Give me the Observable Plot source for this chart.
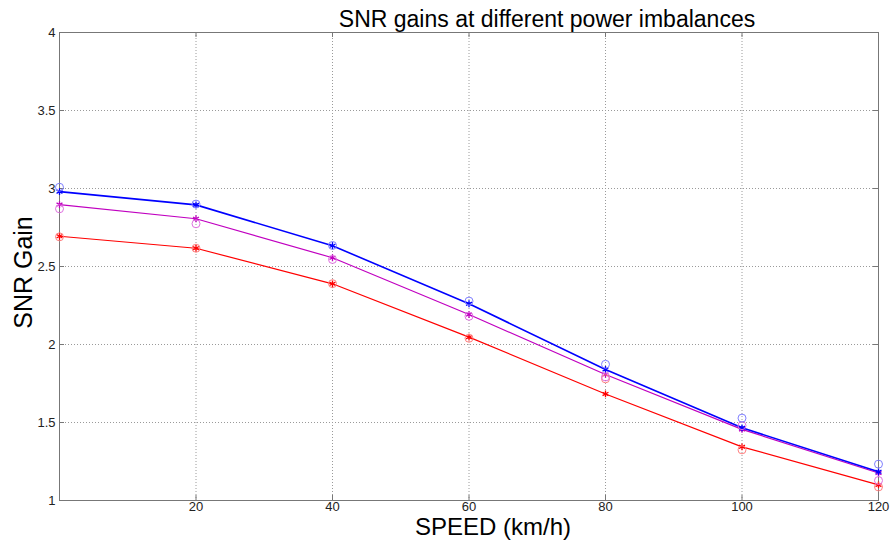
<!DOCTYPE html>
<html><head><meta charset="utf-8">
<script src="https://cdn.jsdelivr.net/npm/d3@7"></script>
<script src="https://cdn.jsdelivr.net/npm/@observablehq/plot@0.6"></script>
<style>html,body{margin:0;padding:0;background:#fff} svg{display:block}</style>
</head><body><div id="chart"></div>
<script>
// ---- data ----
const speeds = [0, 20, 40, 60, 80, 100, 120];
const xTicks = [20, 40, 60, 80, 100, 120];
const yTicks = [1, 1.5, 2, 2.5, 3, 3.5, 4];
const seriesNames = ["blue", "magenta", "red"];
// simulated (line with * markers)
const blueSim    = [2.980, 2.895, 2.633, 2.261, 1.840, 1.466, 1.184];
const magentaSim = [2.897, 2.806, 2.556, 2.192, 1.808, 1.456, 1.176];
const redSim     = [2.694, 2.617, 2.389, 2.047, 1.683, 1.344, 1.100];
// analytical (open circles)
const blueTh    = [3.008, 2.900, 2.635, 2.278, 1.873, 1.528, 1.233];
const magentaTh = [2.870, 2.774, 2.545, 2.181, 1.792, 1.480, 1.128];
const redTh     = [2.690, 2.617, 2.390, 2.040, 1.780, 1.325, 1.087];

const lineColors = {blue: "#0000ff", magenta: "#c000c0", red: "#ff0000"};
const circleColors = {blue: "#7f7fff", magenta: "#e070e0", red: "#ff7f7f"};

const simArrays = {blue: blueSim, magenta: magentaSim, red: redSim};
const thArrays = {blue: blueTh, magenta: magentaTh, red: redTh};
const drawOrder = ["red", "magenta", "blue"];

const sim = drawOrder.flatMap(s => speeds.map((x, i) => ({s, x, y: simArrays[s][i]})));
const th = drawOrder.flatMap(s => speeds.map((x, i) => ({s, x, y: thArrays[s][i]})));

const W = 891, H = 540, mL = 59, mR = 13, mT = 32, mB = 40;
const pw = W - mL - mR, ph = H - mT - mB;
const font = "'Liberation Sans', Arial, Helvetica, sans-serif";

const marks = [
  Plot.gridX(xTicks, {stroke: "#9a9a9a", strokeOpacity: 1, strokeDasharray: "1,2"}),
  Plot.gridY(yTicks, {stroke: "#9a9a9a", strokeOpacity: 1, strokeDasharray: "1,2"}),
  // inward ticks
  Plot.tickX(xTicks, {x: d => d, insetTop: ph - 5, stroke: "#777"}),
  Plot.tickX(xTicks, {x: d => d, insetBottom: ph - 5, stroke: "#777"}),
  Plot.tickY(yTicks, {y: d => d, insetRight: pw - 5, stroke: "#777"}),
  Plot.tickY(yTicks, {y: d => d, insetLeft: pw - 5, stroke: "#777"}),
  Plot.frame({stroke: "#777"}),
  Plot.axisX(xTicks, {tickSize: 0, tickPadding: 1, fontSize: 13, fill: "#222", label: null}),
  Plot.axisY(yTicks, {tickSize: 0, tickPadding: 4, fontSize: 13, fill: "#222", label: null, tickFormat: d => String(d)}),
];
for (const s of drawOrder) {
  marks.push(Plot.line(sim.filter(d => d.s === s), {x: "x", y: "y", stroke: lineColors[s], strokeWidth: s === "blue" ? 1.6 : 1.2}));
  marks.push(Plot.dot(sim.filter(d => d.s === s), {x: "x", y: "y", symbol: "asterisk", r: 3.2, stroke: lineColors[s], strokeWidth: 1.3}));
}
for (const s of drawOrder) {
  marks.push(Plot.dot(th.filter(d => d.s === s), {x: "x", y: "y", r: 4, stroke: circleColors[s], strokeWidth: 1, fill: "none"}));
}
marks.push(
  Plot.text(["SNR gains at different power imbalances"], {frameAnchor: "top", textAnchor: "middle", lineAnchor: "top", dx: 78, dy: -22, fontSize: 23, fill: "#000"}),
  Plot.text(["SPEED (km/h)"], {frameAnchor: "bottom", textAnchor: "middle", lineAnchor: "bottom", dx: 24, dy: 34, fontSize: 24, fill: "#000"}),
  Plot.text(["SNR Gain"], {frameAnchor: "left", textAnchor: "middle", lineAnchor: "middle", dx: -36, dy: 6, rotate: -90, fontSize: 25, fill: "#000"})
);

const chart = Plot.plot({
  width: W, height: H,
  marginLeft: mL, marginRight: mR, marginTop: mT, marginBottom: mB,
  style: {fontFamily: font, background: "#fff", overflow: "visible"},
  x: {domain: [0, 120]},
  y: {domain: [1, 4]},
  marks
});
document.getElementById("chart").appendChild(chart);
</script>
</body></html>
